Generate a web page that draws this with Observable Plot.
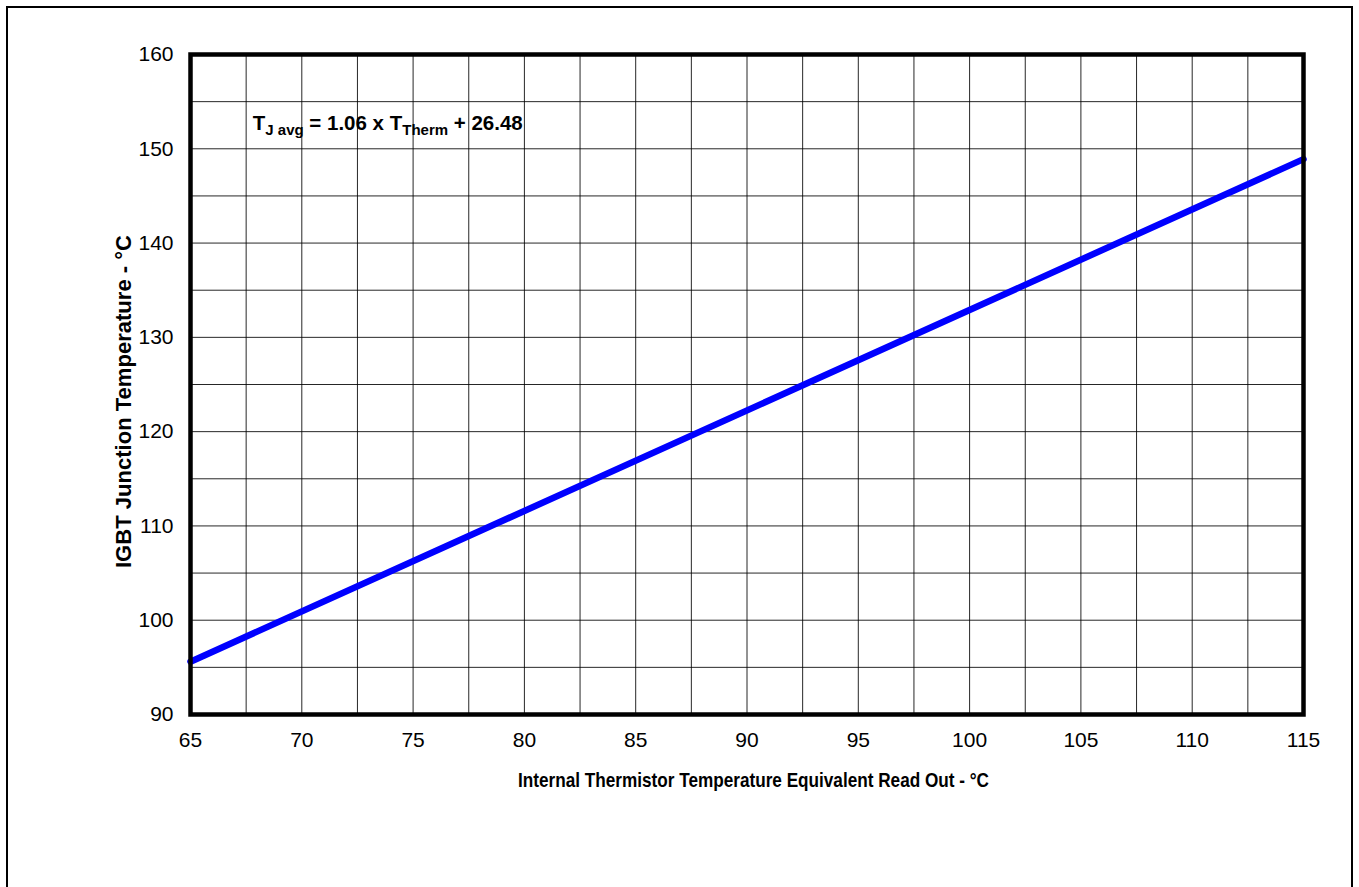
<!DOCTYPE html>
<html>
<head>
<meta charset="utf-8">
<script src="https://cdn.jsdelivr.net/npm/d3@7"></script>
<script src="https://cdn.jsdelivr.net/npm/@observablehq/plot@0.6"></script>
<style>
  html, body { margin: 0; padding: 0; background: #fff; overflow: hidden; }
  #wrap { position: relative; width: 1359px; height: 887px; }
  #border { position: absolute; left: 6px; top: 6px; width: 1347px; height: 900px; border: 2px solid #000; box-sizing: border-box; }
  #chart { position: absolute; left: 0; top: 0; }
</style>
</head>
<body>
<div id="wrap"><div id="border"></div><div id="chart"></div></div>
<script>
const thermTemp = [65, 115];
const junctionTemp = [95.6, 148.9];
const xTicks = [65, 70, 75, 80, 85, 90, 95, 100, 105, 110, 115];
const yTicks = [90, 100, 110, 120, 130, 140, 150, 160];
const xGrid = [65, 67.5, 70, 72.5, 75, 77.5, 80, 82.5, 85, 87.5, 90, 92.5, 95, 97.5, 100, 102.5, 105, 107.5, 110, 112.5, 115];
const yGrid = [90, 95, 100, 105, 110, 115, 120, 125, 130, 135, 140, 145, 150, 155, 160];
const xLabel = "Internal Thermistor Temperature Equivalent Read Out - °C";
const yLabel = "IGBT Junction Temperature - °C";

const data = thermTemp.map((t, i) => ({t, j: junctionTemp[i]}));
const FONT = "'Liberation Sans', Arial, sans-serif";

const plot = Plot.plot({
  width: 1359,
  height: 887,
  marginLeft: 190,
  marginRight: 56,
  marginTop: 54,
  marginBottom: 173,
  style: {fontFamily: FONT, fontSize: "21px", color: "#000", background: "transparent"},
  x: {domain: [65, 115]},
  y: {domain: [90, 160]},
  marks: [
    Plot.ruleX(xGrid, {stroke: "#000", strokeWidth: 1, strokeOpacity: 0.85}),
    Plot.ruleY(yGrid, {stroke: "#000", strokeWidth: 1, strokeOpacity: 0.85}),
    Plot.line(data, {x: "t", y: "j", stroke: "#0000ff", strokeWidth: 6.5}),
    Plot.frame({stroke: "#000", strokeWidth: 4.5}),
    Plot.axisX({ticks: xTicks, tickSize: 0, tickPadding: 18, tickFormat: d => String(d), label: null, fontSize: 21}),
    Plot.axisY({ticks: yTicks, tickSize: 0, tickPadding: 17, tickFormat: d => String(d), label: null, fontSize: 21})
  ]
});
document.getElementById("chart").appendChild(plot);

const svg = d3.select(plot);
const sx = plot.scale("x"), sy = plot.scale("y");

// x axis title
svg.append("text")
  .attr("x", 753.5)
  .attr("y", 787)
  .attr("text-anchor", "middle")
  .attr("font-family", FONT)
  .attr("font-weight", "bold")
  .attr("font-size", 21)
  .attr("textLength", 471)
  .attr("lengthAdjust", "spacingAndGlyphs")
  .text(xLabel);

// y axis title
svg.append("text")
  .attr("transform", `translate(131, 401.5) rotate(-90)`)
  .attr("text-anchor", "middle")
  .attr("font-family", FONT)
  .attr("font-weight", "bold")
  .attr("font-size", 22)
  .attr("textLength", 333)
  .attr("lengthAdjust", "spacingAndGlyphs")
  .text(yLabel);

// equation annotation
const eq = svg.append("text")
  .attr("x", sx.apply(67.82))
  .attr("y", sy.apply(151.9))
  .attr("text-anchor", "start")
  .attr("font-family", FONT)
  .attr("font-weight", "bold")
  .attr("font-size", 20.5);
eq.append("tspan").text("T");
eq.append("tspan").attr("font-size", 15).attr("dy", 4.7).text("J avg");
eq.append("tspan").attr("dy", -4.7).text(" = 1.06 x T");
eq.append("tspan").attr("font-size", 15).attr("dy", 4.7).text("Therm");
eq.append("tspan").attr("dy", -4.7).text(" + 26.48");
</script>
</body>
</html>
